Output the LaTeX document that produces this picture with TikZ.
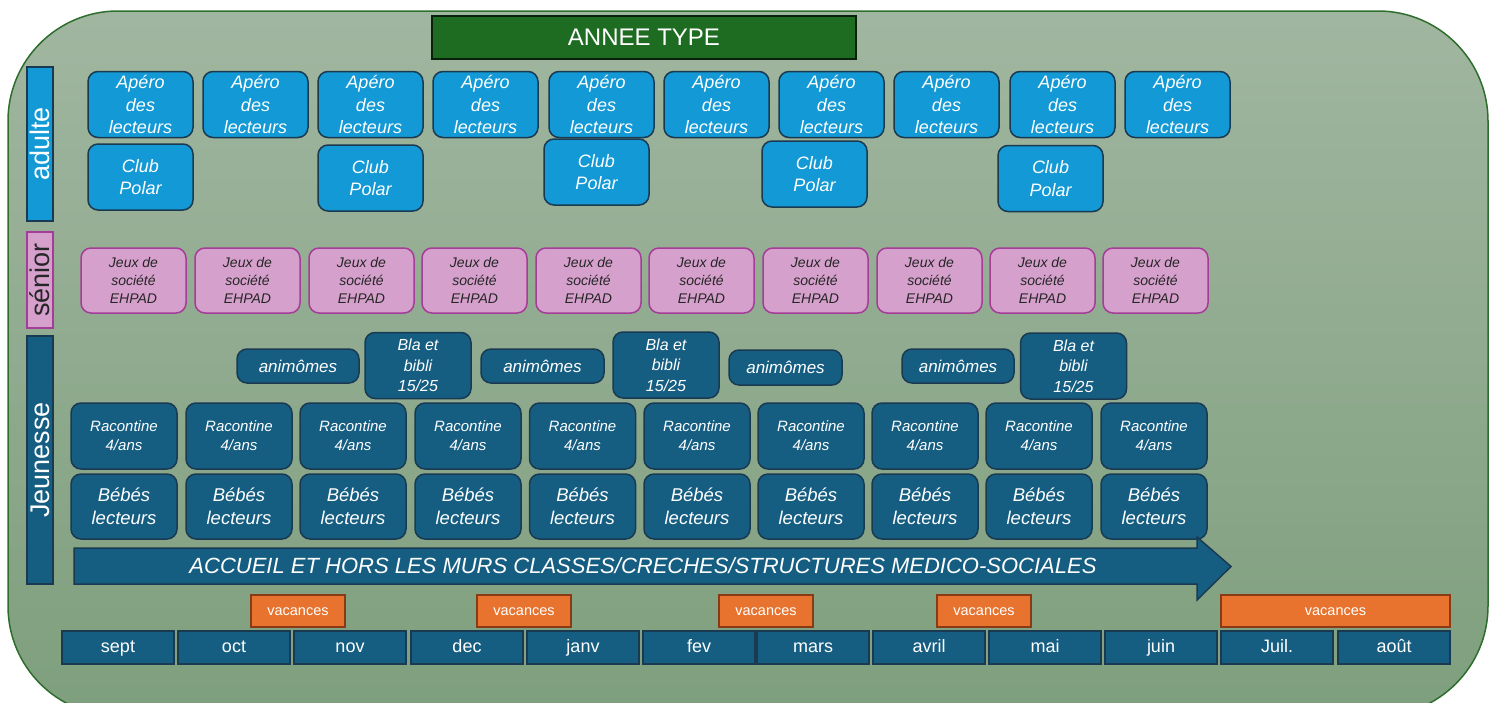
\documentclass[tikz,border=0pt]{standalone}
\usepackage{fontspec}
\setmainfont{Liberation Sans}
\usepackage{tikz}

\definecolor{fondhaut}{HTML}{A1B6A0}
\definecolor{fondbas}{HTML}{7E9F7D}
\definecolor{bordvert}{HTML}{2E6E2C}
\definecolor{titrevert}{HTML}{1E6B22}
\definecolor{bleuclair}{HTML}{1399D5}
\definecolor{bleunuit}{HTML}{1A3A52}
\definecolor{bleucanard}{HTML}{155E82}
\definecolor{rose}{HTML}{D6A0CD}
\definecolor{violet}{HTML}{A53C98}
\definecolor{orange}{HTML}{E8732F}
\definecolor{brique}{HTML}{8A3A14}

\begin{document}
\begin{tikzpicture}[x=1pt,y=-1pt]
\tikzstyle{every node}=[inner sep=0pt,align=center]
\tikzstyle{boite}=[draw,line width=1.5pt,rounded corners=10pt]
\tikzstyle{adulte}=[boite,fill=bleuclair,draw=bleunuit,text=white,minimum width=105pt,minimum height=66pt,font=\itshape\fontsize{18}{22.5}\selectfont]
\tikzstyle{senior}=[boite,fill=rose,draw=violet,text=black!85,minimum width=105pt,minimum height=65pt,font=\itshape\fontsize{14}{18}\selectfont]
\tikzstyle{jeune}=[boite,fill=bleucanard,draw=bleunuit,text=white,minimum width=106pt,minimum height=66pt]
\tikzstyle{bande}=[draw,line width=1.3pt,rotate=90,minimum height=26pt,font=\fontsize{27}{27}\selectfont]
\tikzstyle{mois}=[draw=bleunuit,line width=1.3pt,fill=bleucanard,text=white,minimum width=112pt,minimum height=33pt,
  text height=13pt,text depth=4pt,font=\fontsize{18}{18}\selectfont]
\tikzstyle{vacances}=[draw=brique,line width=1.3pt,fill=orange,text=white,minimum height=32pt,
  text height=9pt,text depth=1pt,font=\fontsize{14.5}{14.5}\selectfont]

\useasboundingbox (0,0) rectangle (1494,702);

% fond arrondi
\shade[top color=fondhaut,bottom color=fondbas,draw=bordvert,line width=1.5pt,rounded corners=110pt]
  (8,11) rectangle (1488,716);

\node[draw=black!70!titrevert,line width=1.3pt,fill=titrevert,text=white,minimum width=424pt,minimum height=43pt,
  font=\fontsize{24}{24}\selectfont] (titre) at (644,37.5) {ANNEE TYPE};

% bandes des publics
\node[bande,fill=bleuclair,draw=bleunuit,text=white,minimum width=154pt] (public1) at (40,144) {adulte};
\node[bande,fill=rose,draw=violet,text=black!85,minimum width=96pt] (public2) at (40,280) {sénior};
\node[bande,fill=bleucanard,draw=bleunuit,text=white,minimum width=248pt] (public3) at (40,460) {Jeunesse};

% adulte
\foreach \x [count=\i] in {140.5,255.5,370.5,485.5,601.5,716.5,831.5,946.5,1062.5,1177.5}
  \node[adulte] (apero\i) at (\x,104.5) {Apéro\\des\\lecteurs};
\node[adulte] (polar1) at (140.5,177) {Club\\Polar};
\node[adulte] (polar2) at (370.5,178) {Club\\Polar};
\node[adulte] (polar3) at (596.5,172) {Club\\Polar};
\node[adulte] (polar4) at (814.5,174) {Club\\Polar};
\node[adulte] (polar5) at (1050.5,178.5) {Club\\Polar};

% senior
\foreach \x [count=\i] in {133.5,247.5,361.5,474.5,588.5,701.5,815.5,929.5,1042.5,1155.5}
  \node[senior] (jeux\i) at (\x,280.5) {Jeux de\\société\\EHPAD};

% jeunesse
\node[jeune,minimum width=122pt,minimum height=34pt,font=\itshape\fontsize{17}{17}\selectfont] (animomes1) at (298,366) {animômes};
\node[jeune,minimum width=123pt,minimum height=34pt,font=\itshape\fontsize{17}{17}\selectfont] (animomes2) at (542.5,366) {animômes};
\node[jeune,minimum width=113pt,minimum height=35pt,font=\itshape\fontsize{17}{17}\selectfont] (animomes3) at (785.5,367.5) {animômes};
\node[jeune,minimum width=112pt,minimum height=34pt,font=\itshape\fontsize{17}{17}\selectfont] (animomes4) at (958,366) {animômes};
\node[jeune,font=\itshape\fontsize{16}{20.5}\selectfont] (blabla1) at (418,365.5) {Bla et\\bibli\\15/25};
\node[jeune,font=\itshape\fontsize{16}{20.5}\selectfont] (blabla2) at (666,365) {Bla et\\bibli\\15/25};
\node[jeune,font=\itshape\fontsize{16}{20.5}\selectfont] (blabla3) at (1073.5,366) {Bla et\\bibli\\15/25};
\foreach \x [count=\i] in {124,239,353,468,582.5,697,811,925,1039,1154}{
  \node[jeune,font=\itshape\fontsize{15}{19}\selectfont] (racontine\i) at (\x,436) {Racontine\\4/ans};
  \node[jeune,minimum height=65pt,font=\itshape\fontsize{18.5}{23}\selectfont] (bebes\i) at (\x,506.5) {Bébés\\lecteurs};
}

% fleche accueil
\draw[fill=bleucanard,draw=bleunuit,line width=1.5pt,line join=miter]
  (74,548) -- (1197,548) -- (1197,537) -- (1231,566.5) -- (1197,600) -- (1197,584) -- (74,584) -- cycle;
\node[text=white,font=\itshape\fontsize{22}{22}\selectfont] (accueil) at (643,566)
  {ACCUEIL ET HORS LES MURS CLASSES/CRECHES/STRUCTURES MEDICO-SOCIALES};

% vacances
\node[vacances,minimum width=94pt] (vac1) at (298,611) {vacances};
\node[vacances,minimum width=94pt] (vac2) at (524,611) {vacances};
\node[vacances,minimum width=94pt] (vac3) at (766,611) {vacances};
\node[vacances,minimum width=94pt] (vac4) at (984,611) {vacances};
\node[vacances,minimum width=229pt] (vac5) at (1335.5,611) {vacances};

% mois
\foreach \x/\m [count=\i] in {118/sept,234/oct,350/nov,467/dec,583/janv,699/fev,813/mars,929/avril,1045/mai,1161/juin,1277/Juil.,1394/août}
  \node[mois] (mois\i) at (\x,647.5) {\m};
\end{tikzpicture}
\end{document}
